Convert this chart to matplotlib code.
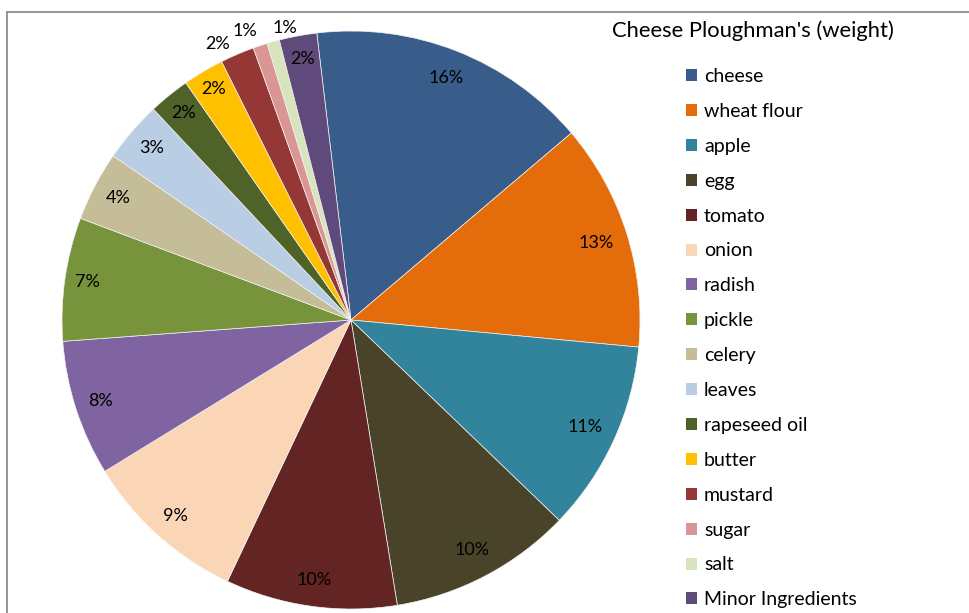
import numpy as np
import matplotlib.pyplot as plt
from matplotlib.patches import Rectangle, Patch

# ================= data ===================
ingredients = ['cheese', 'wheat flour', 'apple', 'egg', 'tomato', 'onion', 'radish',
               'pickle', 'celery', 'leaves', 'rapeseed oil', 'butter', 'mustard',
               'sugar', 'salt', 'Minor Ingredients']
weights = [15.7, 12.7, 10.7, 10.25, 9.6, 9.2, 7.6, 6.9, 3.9, 3.4, 2.3, 2.3, 1.9, 0.8, 0.7, 2.1]
colors = ['#385D8A', '#E46C0A', '#31849B', '#494429', '#632523', '#FAD6B7', '#8064A2',
          '#77933C', '#C4BD97', '#B9CDE5', '#4F6228', '#FFC000', '#953735',
          '#D99694', '#D7E4BD', '#604A7B']
# label distance from centre (fraction of radius) and angular nudge (deg, clockwise)
label_r = [0.90, 0.89, 0.89, 0.90, 0.91, 0.91, 0.91, 0.92, 0.91, 0.91, 0.92, 0.93,
           1.06, 1.065, 1.035, 0.92]
label_shift = [0, 0, 0, 0, 0, 0, 0, 0, 0, 0, 0, 0, -2.7, -1.8, 2.9, 0]

W, H = 970, 613
plt.rcParams['font.family'] = ['Lato', 'DejaVu Sans']

fig = plt.figure(figsize=(W / 100, H / 100), dpi=100)

# grey chart frame (cut off at right and bottom)
fig.patches.append(Rectangle((7 / W, -0.1), 1.1, (H - 12) / H + 0.1, transform=fig.transFigure,
                             fill=False, edgecolor='#8c8c8c', linewidth=1.3))

cx, cy, r = 351, 320, 289
ax = fig.add_axes([(cx - r) / W, (H - cy - r) / H, 2 * r / W, 2 * r / H])

wedges, _ = ax.pie(weights, colors=colors, startangle=96.8, counterclock=False,
                   radius=1, wedgeprops=dict(edgecolor='#f2f2f2', linewidth=0.5))
ax.set_xlim(-1, 1)
ax.set_ylim(-1, 1)
ax.axis('off')

total = sum(weights)
for w, v, d, s in zip(wedges, weights, label_r, label_shift):
    mid = np.deg2rad((w.theta1 + w.theta2) / 2 - s)
    ax.text(d * np.cos(mid), d * np.sin(mid), '%d%%' % round(v / total * 100),
            ha='center', va='center', fontsize=13, color='black', clip_on=False)

fig.text(612 / W, 1 - 31 / H, "Cheese Ploughman's (weight)", ha='left', va='center',
         fontsize=15.8, color='black')

handles = [Patch(facecolor=c, edgecolor='none') for c in colors]
fig.legend(handles, ingredients, loc='upper left', bbox_to_anchor=(686 / W, 1 - 68 / H),
           frameon=False, fontsize=14, handlelength=0.57, handleheight=0.57,
           handletextpad=0.36, labelspacing=0.92, borderpad=0, borderaxespad=0)

fig.savefig('out.png', dpi=100)
